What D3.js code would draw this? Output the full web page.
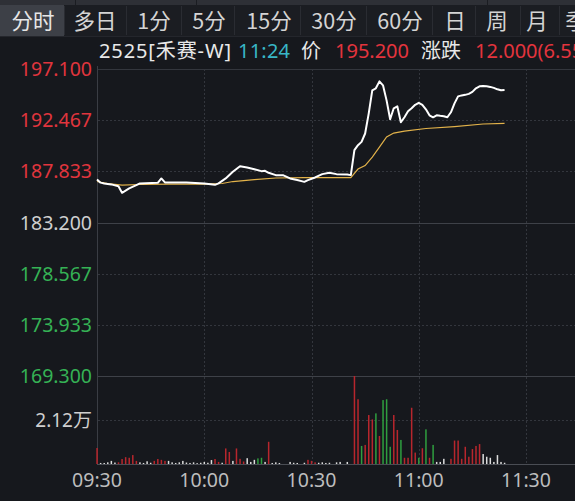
<!DOCTYPE html>
<html><head><meta charset="utf-8">
<script src="https://cdn.jsdelivr.net/npm/d3@7"></script>
<style>
html,body{margin:0;padding:0;background:#16181d;overflow:hidden;}
svg{display:block;font-family:"Noto Sans","Noto Sans CJK SC",sans-serif;}
</style></head>
<body>
<svg id="c" width="575" height="501"></svg>
<script>
// ---------- data ----------
const tabs = ["分时","多日","1分","5分","15分","30分","60分","日","周","月","季"];
const priceTicks = ["197.100","192.467","187.833","183.200","178.567","173.933","169.300"];
const prevClose = 183.2;
const timeTicks = ["09:30","10:00","10:30","11:00","11:30"];
const volTickLabel = "2.12万";
const volTickValue = 2.12;
const volMax = 4.24;

const priceTimes = ["09:30","09:31","09:32","09:34","09:36","09:37","09:39","09:41","09:42","09:47","09:48","09:49","09:55","10:00","10:03","10:04","10:06","10:08","10:10","10:12","10:14","10:16","10:17","10:18","10:20","10:22","10:24","10:26","10:28","10:29","10:31","10:33","10:35","10:37","10:40","10:41","10:42","10:43","10:44","10:45","10:46","10:47","10:48","10:49","10:50","10:51","10:52","10:53","10:54","10:55","10:56","10:57","10:58","10:59","11:00","11:01","11:02","11:03","11:04","11:05","11:06","11:07","11:08","11:09","11:10","11:11","11:12","11:13","11:14","11:15","11:16","11:17","11:18","11:19","11:20","11:21","11:22","11:23","11:24"];
const priceValues = [187.10,186.81,186.74,186.65,186.49,185.89,186.29,186.58,186.74,186.79,187.19,186.83,186.83,186.74,186.61,186.74,187.19,187.79,188.30,188.18,188.03,187.85,187.88,187.70,187.49,187.49,187.19,187.04,186.88,187.04,187.28,187.58,187.70,187.58,187.55,187.49,189.75,190.20,190.50,191.26,193.06,195.17,195.35,195.98,195.62,194.26,192.55,193.54,193.72,192.28,192.73,193.27,193.54,193.86,194.04,193.86,193.45,192.91,192.73,192.91,192.86,192.82,192.73,193.18,193.99,194.62,194.71,194.76,194.85,195.03,195.35,195.53,195.57,195.53,195.48,195.39,195.26,195.17,195.20];

const avgTimes = ["09:30","09:33","09:37","09:42","09:50","10:00","10:05","10:08","10:14","10:20","10:28","10:41","10:43","10:45","10:47","10:49","10:51","10:53","10:56","11:02","11:10","11:18","11:24"];
const avgValues = [186.91,186.73,186.59,186.64,186.68,186.68,186.73,186.91,187.09,187.23,187.26,187.27,188.04,188.36,189.13,190.03,190.94,191.30,191.48,191.71,191.89,192.12,192.18];

// volume per minute (unit: 万), direction: 1 up(red), -1 down(green), 0 flat(white)
const volTimes = ["09:30","09:31","09:32","09:33","09:34","09:35","09:36","09:37","09:38","09:39","09:40","09:41","09:42","09:43","09:44","09:45","09:46","09:47","09:48","09:49","09:50","09:51","09:52","09:53","09:54","09:55","09:56","09:57","09:58","09:59","10:00","10:01","10:02","10:03","10:04","10:05","10:06","10:07","10:08","10:09","10:10","10:11","10:12","10:13","10:14","10:15","10:16","10:17","10:18","10:19","10:20","10:21","10:24","10:25","10:26","10:28","10:29","10:30","10:31","10:32","10:33","10:34","10:35","10:37","10:38","10:40","10:42","10:43","10:44","10:45","10:46","10:47","10:48","10:49","10:50","10:51","10:52","10:53","10:54","10:55","10:56","10:57","10:58","10:59","11:00","11:01","11:02","11:03","11:04","11:05","11:06","11:07","11:09","11:10","11:11","11:12","11:13","11:14","11:15","11:16","11:17","11:18","11:19","11:20","11:21","11:22","11:23","11:24"];
const volValues = [0.77,0.05,0.05,0.08,0.15,0.07,0.08,0.24,0.33,0.30,0.43,0.15,0.08,0.05,0.13,0.06,0.15,0.24,0.20,0.15,0.15,0.08,0.05,0.08,0.15,0.07,0.05,0.08,0.04,0.06,0.10,0.06,0.19,0.24,0.10,0.06,0.75,0.58,0.15,0.75,0.25,0.12,0.28,0.10,0.20,0.27,0.30,0.10,1.07,0.05,0.08,0.05,0.10,0.06,0.05,0.06,0.20,0.15,0.08,0.06,0.08,0.05,0.06,0.08,0.10,0.10,4.24,3.12,0.87,0.92,2.36,2.15,2.44,1.35,3.08,3.12,0.83,2.36,1.64,1.16,0.30,0.30,2.71,0.55,0.30,0.76,1.67,0.30,0.92,0.10,0.10,0.25,0.25,1.13,1.13,0.25,0.83,0.35,0.72,0.87,0.96,0.48,0.35,0.30,0.10,0.43,0.10,0.06];
const volDirs = [1,0,0,0,0,0,1,1,1,1,1,1,0,0,0,0,1,1,1,1,0,0,0,0,0,0,0,0,0,0,0,0,0,1,1,0,1,1,0,1,1,1,0,0,0,-1,-1,0,1,0,0,0,0,0,0,0,1,1,1,0,0,0,0,0,0,0,1,1,-1,1,1,1,-1,1,-1,-1,-1,1,1,-1,1,1,1,1,-1,1,-1,1,-1,0,0,0,1,1,1,1,1,1,1,1,1,0,0,0,0,0,0,0];

// ---------- helpers ----------
const toMin = s => { const [h,m] = s.split(":").map(Number); return (h*60+m) - (9*60+30); };

const svg = d3.select("#c");
const W = 575, H = 501;

// scales
const x = d3.scaleLinear().domain([0, 120]).range([97, 526]);
const y = d3.scaleLinear().domain([+priceTicks[6], +priceTicks[0]]).range([376, 69]);
const yv = d3.scaleLinear().domain([0, volMax]).range([464, 376]);

// ---------- top bar ----------
svg.append("rect").attr("x",0).attr("y",0).attr("width",W).attr("height",5).attr("fill","#2e3036");
svg.append("rect").attr("x",0).attr("y",5).attr("width",W).attr("height",31).attr("fill","#1b1d22");
const tabCenters = [33,95,154,209,269,334,400,455,497,537,576];
const tabEdges = [64,126,181,234,300,366,432,475,520,559];
svg.append("rect").attr("x",0).attr("y",5).attr("width",64).attr("height",31).attr("fill","#3d4047");
tabEdges.forEach(e => svg.append("line").attr("x1",e+0.5).attr("x2",e+0.5).attr("y1",6).attr("y2",35).attr("stroke","#2a2c32"));
[75,196,487].forEach(e => svg.append("line").attr("x1",e+0.5).attr("x2",e+0.5).attr("y1",0).attr("y2",5).attr("stroke","#1b1d22"));
svg.append("g").selectAll("text").data(tabs).join("text")
  .attr("x",(d,i)=>tabCenters[i]).attr("y",29)
  .attr("text-anchor","middle").attr("font-size",21.5)
  .attr("font-family",'"Noto Sans CJK SC","Noto Sans",sans-serif')
  .attr("fill",(d,i)=> i===0 ? "#e6e6e6" : "#d4d4d4").text(d=>d);
svg.append("line").attr("x1",0).attr("x2",W).attr("y1",36.5).attr("y2",36.5).attr("stroke","#24262c");

// ---------- header ----------
const hdr = [
  {t:"2525[禾赛-W]", x:99, w:132, c:"#e8e8e8"},
  {t:"11:24", x:238, w:52, c:"#38b6c6"},
  {t:"价", x:301, w:0, c:"#e8e8e8"},
  {t:"195.200", x:335, w:74, c:"#e3343d"},
  {t:"涨跌", x:421, w:0, c:"#e8e8e8"},
  {t:"12.000(6.55%)", x:475, w:0, c:"#e3343d"}
];
svg.append("g").selectAll("text").data(hdr).join("text")
  .attr("x",d=>d.x).attr("y",58).attr("font-size",20)
  .attr("font-family",'"Noto Sans","Noto Sans CJK SC",sans-serif')
  .attr("textLength",d=>d.w>0 ? d.w : null)
  .attr("lengthAdjust","spacing")
  .attr("fill",d=>d.c).text(d=>d.t);

// ---------- grid ----------
const grid = svg.append("g");
grid.append("line").attr("x1",97.5).attr("x2",97.5).attr("y1",66).attr("y2",464).attr("stroke","#3a3d44");
priceTicks.forEach((t,i) => {
  const yy = Math.round(y(+t)) + 0.5;
  const solid = (i===3 || i===6);
  grid.append("line").attr("x1",98).attr("x2",W).attr("y1",yy).attr("y2",yy)
    .attr("stroke", solid ? "#3e4148" : "#33363d")
    .attr("stroke-dasharray", (solid || i===0) ? null : "2,2");
});
grid.append("line").attr("x1",98).attr("x2",W).attr("y1",Math.round(yv(volTickValue))+0.5).attr("y2",Math.round(yv(volTickValue))+0.5)
  .attr("stroke","#33363d").attr("stroke-dasharray","2,2");
grid.append("line").attr("x1",97).attr("x2",W).attr("y1",464.5).attr("y2",464.5).attr("stroke","#4a4d54");
timeTicks.slice(1).forEach(t => {
  const xx = Math.round(x(toMin(t))) + 0.5;
  grid.append("line").attr("x1",xx).attr("x2",xx).attr("y1",69).attr("y2",464)
    .attr("stroke","#33363d").attr("stroke-dasharray","2,2");
});

// ---------- axis labels ----------
svg.append("g").selectAll("text").data(priceTicks).join("text")
  .attr("x",92).attr("y",d=>y(+d)).attr("dy","0.36em")
  .attr("text-anchor","end").attr("font-size",19.5)
  .attr("fill",d=> +d > prevClose ? "#e0353d" : (+d < prevClose ? "#35b255" : "#cfcfcf"))
  .text(d=>d);
svg.append("text").attr("x",92).attr("y",yv(volTickValue)).attr("dy","0.36em")
  .attr("text-anchor","end").attr("font-size",19).attr("fill","#cfcfcf")
  .attr("font-family",'"Noto Sans","Noto Sans CJK SC",sans-serif').text(volTickLabel);
svg.append("g").selectAll("text").data(timeTicks).join("text")
  .attr("x",d=>x(toMin(d))).attr("y",480).attr("dy","0.36em")
  .attr("text-anchor","middle").attr("font-size",19.5).attr("fill","#bdbdbd")
  .text(d=>d);

// ---------- volume bars ----------
const volColor = d => d>0 ? "#b8262d" : (d<0 ? "#2f9e3f" : "#dcdcdc");
svg.append("g").selectAll("rect").data(volTimes.map((t,i)=>({m:toMin(t), v:volValues[i], d:volDirs[i]})))
  .join("rect")
  .attr("x",d=>x(d.m)-0.7).attr("width",1.5)
  .attr("y",d=>yv(d.v)).attr("height",d=>464-yv(d.v))
  .attr("fill",d=>volColor(d.d));

// ---------- lines ----------
const avgData = avgTimes.map((t,i)=>({m:toMin(t), p:avgValues[i]}));
const priceData = priceTimes.map((t,i)=>({m:toMin(t), p:priceValues[i]}));
const line = d3.line().x(d=>x(d.m)).y(d=>y(d.p));
svg.append("path").datum(avgData).attr("d",line).attr("fill","none")
  .attr("stroke","#e2b24a").attr("stroke-width",1.2);
svg.append("path").datum(priceData).attr("d",line).attr("fill","none")
  .attr("stroke","#ffffff").attr("stroke-width",2).attr("stroke-linejoin","round");
</script>
</body></html>
